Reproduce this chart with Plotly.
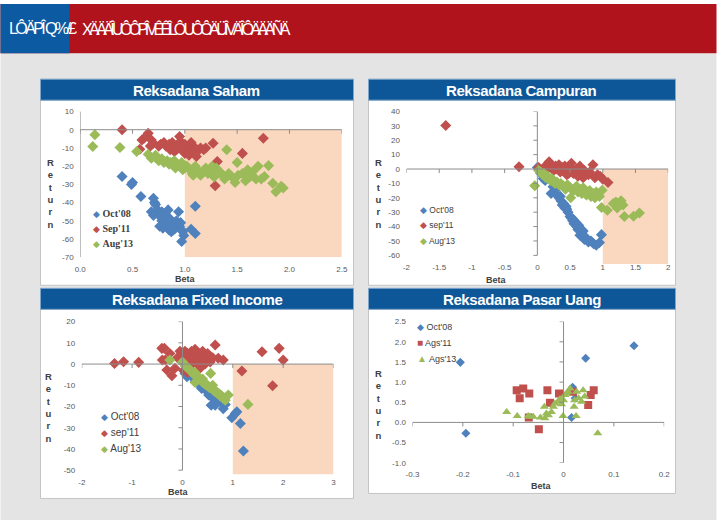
import plotly.graph_objects as go

W, H = 722, 520
# The photographed page comes out scaled by ~0.982 and centred; layout positions are
# pre-compensated so that they land where the reference shows them.
S, OX, OY = 0.982, 6.5, 3.9

# ---------------- DATA ----------------
# Reksadana Saham
saham_oct08_beta = [0.40,0.49,0.50,0.58,0.70,0.71,0.72,0.68,0.70,0.74,0.76,0.78,0.80,0.82,0.78,0.80,0.84,0.86,0.76,0.79,0.83,0.88,0.90,0.92,0.85,0.87,0.91,0.93,0.95,0.97,0.99,0.96,0.94,0.98,0.97,1.10,1.06,1.10,0.81,0.77,0.89,0.84]
saham_oct08_ret  = [-25.7,-30,-29,-36.7,-37.6,-40,-41,-45,-47,-44,-46,-45,-48,-47,-50,-52,-50,-49,-53,-54,-53,-51,-52,-50,-55,-56,-54,-52,-53,-55,-58,-51,-45,-56,-61.3,-42,-54.6,-57,-46,-48,-55,-44]
saham_sep11_beta = [0.40,0.65,0.59,0.61,0.57,0.68,0.70,0.67,0.75,0.77,0.80,0.82,0.85,0.87,0.88,0.90,0.92,0.93,0.95,0.96,0.97,0.98,1.00,1.02,1.03,1.05,1.06,1.08,1.10,1.12,1.15,1.18,1.20,0.95,1.27,1.31,1.29,1.55,1.75,1.11,0.90,1.00,1.04,0.86]
saham_sep11_ret  = [0,-2,-5.6,-4.7,-10.7,-5.6,-7.4,-9,-9,-8,-7,-9,-8,-10,-7,-9,-11,-8,-10,-9,-7,-11,-8,-10,-12,-9,-7,-11,-10,-12,-10,-11,-10,-3.7,-7.4,-17.5,-30.7,-13,-4.7,-14.7,-12,-13,-14,-11]
saham_aug13_beta = [0.14,0.12,0.38,0.54,0.65,0.68,0.72,0.75,0.78,0.80,0.83,0.85,0.88,0.90,0.91,0.93,0.95,0.97,1.00,1.02,1.05,1.07,1.10,1.12,1.15,1.17,1.20,1.22,1.25,1.28,1.30,1.33,1.36,1.38,1.40,1.42,1.45,1.48,1.50,1.51,1.55,1.58,1.60,1.62,1.65,1.68,1.70,1.73,1.76,1.80,1.84,1.87,1.94,1.92,0.86,0.98,1.08,1.18,1.26,1.35]
saham_aug13_ret  = [-2.8,-9.2,-9.8,-12,-13.5,-15.6,-14,-17,-16,-18,-17,-19,-18,-17,-21,-19,-20,-18,-21,-20,-22,-24,-20,-22,-25,-23,-21,-24,-22,-26,-21,-23,-25,-27,-11,-24,-26,-29,-18,-25,-24,-28,-22,-26,-23,-27,-20,-27,-25.7,-19.7,-29.4,-34,-32,-31,-18,-22,-25,-23,-20,-24]

# Reksadana Campuran
campuran_oct08_beta = [0.00,0.05,0.09,0.12,0.21,0.24,0.27,0.30,0.33,0.36,0.38,0.40,0.42,0.45,0.47,0.50,0.52,0.54,0.56,0.58,0.60,0.62,0.64,0.65,0.68,0.70,0.72,0.75,0.78,0.82,0.86,0.90,0.95,0.98,0.35,0.44,0.55,0.63,0.70]
campuran_oct08_ret  = [1,-3,-6.5,-8,-17,-12.3,-15,-18,-20,-22,-25,-24,-27,-28,-30,-33,-34,-36,-38,-37,-40,-42,-41,-46,-44,-47,-49,-48,-50.7,-50,-52,-53,-51,-45.6,-19,-26,-35,-39,-43]
campuran_sep11_beta = [-1.40,-0.28,0.02,0.08,0.12,0.15,0.18,0.20,0.22,0.25,0.28,0.30,0.33,0.35,0.38,0.40,0.42,0.45,0.48,0.50,0.52,0.55,0.58,0.60,0.63,0.65,0.68,0.70,0.72,0.75,0.78,0.80,0.85,0.88,0.92,0.96,1.00,1.08,0.45,0.55,0.62,0.70]
campuran_sep11_ret  = [30.2,1.6,1,-1,2,0,5,3,1,-1,2,0,3,-2,1,-1,2,0,-3,1,4,-1,-3,0,-4,2,-2,-5,-1,-3,-4,-2,3,-6,-4,-5,-7,-9.3,-4,-3,-5,-6]
campuran_aug13_beta = [-0.04,0.02,0.05,0.08,0.10,0.13,0.16,0.20,0.23,0.27,0.30,0.33,0.36,0.40,0.43,0.46,0.50,0.51,0.55,0.58,0.62,0.65,0.68,0.72,0.75,0.78,0.82,0.85,0.88,0.92,0.95,0.99,0.98,1.07,1.16,1.20,1.24,1.28,1.31,1.22,1.33,1.47,1.56,0.60,0.70,0.80,0.90]
campuran_aug13_ret  = [-11.6,-1,-2,-4,-3,-6,-5,-8,-7,-10,-9,-11,-10,-12,-14,-11,-13,-20,-15,-13,-16,-14,-17,-15,-18,-16,-19,-17,-20,-18,-19,-14.7,-26.7,-28.6,-24,-23,-26,-22,-25,-27,-33,-32.8,-30.5,-12,-13,-15,-16]

# Reksadana Fixed Income
fixed_oct08_beta = [0.05,0.09,0.15,0.20,0.25,0.30,0.38,0.45,0.52,0.57,0.65,0.72,0.78,0.81,0.85,0.98,1.05,1.08,1.15,1.21,0.60,0.70]
fixed_oct08_ret  = [-4.4,-6,-5,-6,-8,-9,-11.5,-12,-14.6,-19.4,-19.4,-17.8,-18,-21,-19,-25.3,-23.3,-22.5,-28,-41,-16,-15]
fixed_sep11_beta = [-1.35,-1.17,-0.87,-0.41,-0.36,-0.40,-0.34,-0.31,-0.21,-0.15,-0.25,-0.10,-0.05,0.00,0.03,0.05,0.08,0.10,0.12,0.15,0.18,0.20,0.22,0.25,0.28,0.30,0.32,0.35,0.38,0.40,0.42,0.45,0.48,0.50,0.55,0.60,0.65,0.71,0.81,1.18,1.58,1.79,1.92,2.00,0.15,0.25,0.35,0.02,0.10]
fixed_sep11_ret  = [0.3,1.1,0.8,7.4,7.4,1.9,1.9,-2.8,-5.5,-2,5,3,6,4,1,6,3,5,0,2,6,4,1,3,5,0,2,4,1,6,3,0,2,5,1,3,9,2.7,1.9,-3.3,5.8,-10.2,7.4,1.9,-1,7,-2,-3,-4]
fixed_aug13_beta = [-0.25,0.00,0.03,0.06,0.09,0.12,0.15,0.18,0.20,0.23,0.25,0.27,0.30,0.33,0.35,0.38,0.40,0.43,0.45,0.48,0.50,0.53,0.56,0.58,0.60,0.63,0.65,0.68,0.70,0.73,0.75,0.78,0.80,0.83,0.85,0.91,1.30,0.25,0.40,0.60]
fixed_aug13_ret  = [1.9,1,0,-1,-1.5,-2,-3,-3.5,-4,-5,-8.7,-5,-6,-7,-7,-8,-8.5,-9,-9.5,-10,-10,-11,-4.4,-11.5,-12,-12.5,-13,-13,-14,-14,-15,-15,-16,-16,-17,-14.6,-19,-4,-7,-10]

# Reksadana Pasar Uang
pasar_oct08_beta = [-0.205,-0.194,0.044,0.140,0.018,0.016,0.023]
pasar_oct08_ret  = [1.49,-0.27,1.59,1.90,0.87,0.12,0.60]
pasar_ags11_beta = [-0.093,-0.080,-0.087,-0.068,-0.032,-0.027,-0.009,-0.049,-0.069,0.060,0.054,0.049,0.019]
pasar_ags11_ret  = [0.80,0.84,0.60,0.72,0.80,0.49,0.72,-0.17,0.12,0.80,0.68,0.43,0.76]
pasar_ags13_beta = [-0.113,-0.092,-0.070,-0.067,-0.060,-0.046,-0.038,-0.034,-0.030,-0.037,-0.024,-0.020,-0.017,-0.011,-0.007,-0.001,0.003,0.006,0.009,0.013,0.025,0.021,0.039,0.042,0.036,0.026,0.022,0.068,-0.004,0.000,0.030]
pasar_ags13_ret  = [0.26,0.16,0.16,0.14,0.14,0.12,0.39,0.22,0.18,0.10,0.26,0.39,0.47,0.51,0.58,0.16,0.68,0.72,0.76,0.84,0.16,0.39,0.80,0.64,0.51,0.76,0.55,-0.27,0.45,0.55,0.60]

# Tick labels
saham_xticks = [0, 0.5, 1.0, 1.5, 2.0, 2.5]
saham_xlabels = ["0.0", "0.5", "1.0", "1.5", "2.0", "2.5"]
saham_yticks = [10, 0, -10, -20, -30, -40, -50, -60, -70]
campuran_xticks = [-2, -1.5, -1, -0.5, 0, 0.5, 1, 1.5, 2]
campuran_xlabels = ["-2", "-1.5", "-1", "-0.5", "0", "0.5", "1", "1.5", "2"]
campuran_yticks = [40, 30, 20, 10, 0, -10, -20, -30, -40, -50, -60]
fixed_xticks = [-2, -1, 0, 1, 2, 3]
fixed_yticks = [20, 10, 0, -10, -20, -30, -40, -50]
pasar_xticks = [-0.3, -0.2, -0.1, 0, 0.1, 0.2]
pasar_xlabels = ["-0.3", "-0.2", "-0.1", "0", "0.1", "0.2"]
pasar_yticks = [2.5, 2.0, 1.5, 1.0, 0.5, 0.0, -0.5, -1.0]
pasar_ylabels = ["2.5", "2.0", "1.5", "1.0", "0.5", "0.0", "-0.5", "-1.0"]

# ---------------- STYLE ----------------
BLUE, RED, GREEN = "#4f81bd", "#c0504d", "#9bbb59"
SHADE = "#fad8bf"
BAR = "#0d5697"
AXC = "#8c8c8c"
TICKF = dict(family="Liberation Sans, Arial", size=8, color="#595959")
TICKMARK = 4  # px


def px(x):
    return (x - OX) / S / W


def py(y):
    return 1 - (y - OY) / S / H


def lab(v):
    return [str(t) for t in v]


panels = [
    dict(title="Reksadana Saham", box=(40, 79, 353, 285), plot=(79.7, 111.3, 341.3, 257.0),
         xr=[0, 2.5], yr=[-70, 10], xt=saham_xticks, xl=saham_xlabels, yt=saham_yticks, yl=lab(saham_yticks),
         shade=(1.0, 2.5), beta=(184.7, 279), ret=(50, 193),
         legx=91, legy=[213, 228.5, 243.7], legfont=dict(family="Liberation Serif", size=10, color="#404040"), legbold=True,
         names=["Oct'08", "Sep'11", "Aug'13"],
         data=[(saham_oct08_beta, saham_oct08_ret), (saham_sep11_beta, saham_sep11_ret), (saham_aug13_beta, saham_aug13_ret)],
         symbols=["diamond", "diamond", "diamond"], glyphs=["◆", "◆", "◆"]),
    dict(title="Reksadana Campuran", box=(368, 79, 675, 285), plot=(406.0, 111.3, 667.7, 263.7),
         xr=[-2, 2], yr=[-66, 40], xt=campuran_xticks, xl=campuran_xlabels, yt=campuran_yticks, yl=lab(campuran_yticks),
         shade=(1.0, 2.0), beta=(496, 280), ret=(378, 193),
         legx=418, legy=[210, 225, 240.7], legfont=dict(family="Liberation Sans", size=8.5, color="#404040"), legbold=False,
         names=["Oct'08", "sep'11", "Aug'13"],
         data=[(campuran_oct08_beta, campuran_oct08_ret), (campuran_sep11_beta, campuran_sep11_ret), (campuran_aug13_beta, campuran_aug13_ret)],
         symbols=["diamond", "diamond", "diamond"], glyphs=["◆", "◆", "◆"]),
    dict(title="Reksadana Fixed Income", box=(40, 288, 353, 498), plot=(81.3, 321.3, 333.0, 474.0),
         xr=[-2, 3], yr=[-52, 20], xt=fixed_xticks, xl=lab(fixed_xticks), yt=fixed_yticks, yl=lab(fixed_yticks),
         shade=(1.0, 3.0), beta=(178, 491.5), ret=(48, 407),
         legx=99, legy=[415.7, 432, 448], legfont=dict(family="Liberation Sans", size=10, color="#404040"), legbold=False,
         names=["Oct'08", "sep'11", "Aug'13"],
         data=[(fixed_oct08_beta, fixed_oct08_ret), (fixed_sep11_beta, fixed_sep11_ret), (fixed_aug13_beta, fixed_aug13_ret)],
         symbols=["diamond", "diamond", "diamond"], glyphs=["◆", "◆", "◆"]),
    dict(title="Reksadana Pasar Uang", box=(368, 288, 675, 493), plot=(412.0, 321.3, 663.7, 462.3),
         xr=[-0.3, 0.2], yr=[-1.0, 2.5], xt=pasar_xticks, xl=pasar_xlabels, yt=pasar_yticks, yl=pasar_ylabels,
         shade=None, beta=(541, 486), ret=(378, 404),
         legx=415, legy=[326.3, 342, 358], legfont=dict(family="Liberation Sans", size=9, color="#404040"), legbold=False,
         names=["Oct'08", "Ags'11", "Ags'13"],
         data=[(pasar_oct08_beta, pasar_oct08_ret), (pasar_ags11_beta, pasar_ags11_ret), (pasar_ags13_beta, pasar_ags13_ret)],
         symbols=["diamond", "square", "triangle-up"], glyphs=["◆", "■", "▲"]),
]

fig = go.Figure()
shapes = []
annotations = []
layout_axes = {}

# page background & header
shapes.append(dict(type="rect", xref="paper", yref="paper", x0=px(0), x1=px(716), y0=py(530), y1=py(53),
                   fillcolor="#e4e4e4", line=dict(width=0), layer="below"))
shapes.append(dict(type="rect", xref="paper", yref="paper", x0=px(0), x1=px(716), y0=py(53), y1=py(4),
                   fillcolor="#b0131c", line=dict(width=0), layer="below"))
shapes.append(dict(type="rect", xref="paper", yref="paper", x0=px(0), x1=px(69), y0=py(53), y1=py(4),
                   fillcolor="#0b5aa2", line=dict(width=0), layer="below"))
HEADF = dict(family="Liberation Sans", size=16, color="white")
annotations.append(dict(text="<span style='letter-spacing:-2.6px'>LÔÄPÎ Q%/£</span>", x=px(7), y=py(28),
                        xref="paper", yref="paper", xanchor="left", yanchor="middle", showarrow=False, font=HEADF))
annotations.append(dict(text="<span style='letter-spacing:-3.6px'>XÄÄÄÎ UÔÔPÎ VÊÊÎLÔ UÔÔÄÜÎ VÄÎ ÔÄÄÄÑÄ</span>",
                        x=px(80), y=py(28), xref="paper", yref="paper",
                        xanchor="left", yanchor="middle", showarrow=False, font=HEADF))

for i, p in enumerate(panels):
    n = "" if i == 0 else str(i + 1)
    xa, ya = "x" + n, "y" + n
    bx0, by0, bx1, by1 = p["box"]
    shapes.append(dict(type="rect", xref="paper", yref="paper", x0=px(bx0), x1=px(bx1), y0=py(by1), y1=py(by0 + 21),
                       fillcolor="white", line=dict(color="#c4c4c4", width=1), layer="below"))
    shapes.append(dict(type="rect", xref="paper", yref="paper", x0=px(bx0), x1=px(bx1), y0=py(by0 + 21), y1=py(by0),
                       fillcolor=BAR, line=dict(color="#7fa6cc", width=1), layer="below"))
    annotations.append(dict(text="<b><span style='letter-spacing:-0.4px'>" + p["title"] + "</span></b>",
                            x=px((bx0 + bx1) / 2), y=py(by0 + 11), xref="paper",
                            yref="paper", xanchor="center", yanchor="middle", showarrow=False,
                            font=dict(family="Liberation Sans", size=15, color="white")))
    x0, y0, x1, y1 = p["plot"]
    dom_lo, dom_hi = py(y1), py(y0)
    xpos = dom_lo + (min(p["yt"]) - p["yr"][0]) / (p["yr"][1] - p["yr"][0]) * (dom_hi - dom_lo)
    layout_axes["xaxis" + n] = dict(domain=[px(x0), px(x1)], range=p["xr"], anchor="free", position=xpos,
                                    showgrid=False, zeroline=False, showline=False, tickvals=p["xt"], ticktext=p["xl"],
                                    ticks="outside", ticklen=4, tickcolor="rgba(0,0,0,0)", tickfont=TICKF)
    layout_axes["yaxis" + n] = dict(domain=[dom_lo, dom_hi], range=p["yr"], anchor=xa, showgrid=False,
                                    zeroline=False, showline=False, tickvals=p["yt"], ticktext=p["yl"],
                                    ticks="outside", ticklen=4, tickcolor="rgba(0,0,0,0)", tickfont=TICKF)
    if p["shade"]:
        shapes.append(dict(type="rect", xref=xa, yref=ya, x0=p["shade"][0], x1=p["shade"][1],
                           y0=p["yr"][0], y1=0, fillcolor=SHADE, line=dict(width=0), layer="below"))
    shapes.append(dict(type="line", xref=xa, yref=ya, x0=min(p["xt"]), x1=max(p["xt"]), y0=0, y1=0,
                       line=dict(color=AXC, width=1)))
    shapes.append(dict(type="line", xref=xa, yref=ya, x0=0, x1=0, y0=min(p["yt"]), y1=max(p["yt"]),
                       line=dict(color=AXC, width=1)))
    dx = TICKMARK * (p["xr"][1] - p["xr"][0]) / (x1 - x0)
    dy = TICKMARK * (p["yr"][1] - p["yr"][0]) / (y1 - y0)
    for t in p["yt"]:
        shapes.append(dict(type="line", xref=xa, yref=ya, x0=-dx, x1=0, y0=t, y1=t, line=dict(color=AXC, width=1)))
    for t in p["xt"]:
        shapes.append(dict(type="line", xref=xa, yref=ya, x0=t, x1=t, y0=-dy, y1=0, line=dict(color=AXC, width=1)))
    annotations.append(dict(text="<b>Beta</b>", x=px(p["beta"][0]), y=py(p["beta"][1]), xref="paper", yref="paper",
                            xanchor="center", yanchor="middle",
                            showarrow=False, font=dict(family="Liberation Sans", size=9, color="#404040")))
    annotations.append(dict(text="<b>" + "<br>".join("Return") + "</b>", x=px(p["ret"][0]), y=py(p["ret"][1]),
                            xref="paper", yref="paper", xanchor="center", yanchor="middle", showarrow=False,
                            font=dict(family="Liberation Sans", size=9.5, color="#404040")))
    for k, ((bx, br), name, col, sym, gl) in enumerate(zip(p["data"], p["names"], [BLUE, RED, GREEN],
                                                          p["symbols"], p["glyphs"])):
        size = 8.5 if i < 3 else (7 if sym == "diamond" else 8)
        fig.add_trace(go.Scatter(x=bx, y=br, mode="markers", name=name, xaxis=xa, yaxis=ya, showlegend=False,
                                 marker=dict(symbol=sym, size=size, color=col, line=dict(width=0))))
        label = "<b>" + name + "</b>" if p["legbold"] else name
        gsize = 9 if gl == "◆" else 10
        annotations.append(dict(text="<span style='color:" + col + ";font-size:" + str(gsize) + "px'>" + gl +
                                "</span> " + label,
                                x=px(p["legx"]), y=py(p["legy"][k]), xref="paper", yref="paper",
                                xanchor="left", yanchor="middle", showarrow=False, font=p["legfont"]))

fig.update_layout(width=W, height=H, margin=dict(l=0, r=0, t=0, b=0), paper_bgcolor="white",
                  plot_bgcolor="rgba(0,0,0,0)", shapes=shapes, annotations=annotations, showlegend=False,
                  **layout_axes)

fig.write_html("out.html")
